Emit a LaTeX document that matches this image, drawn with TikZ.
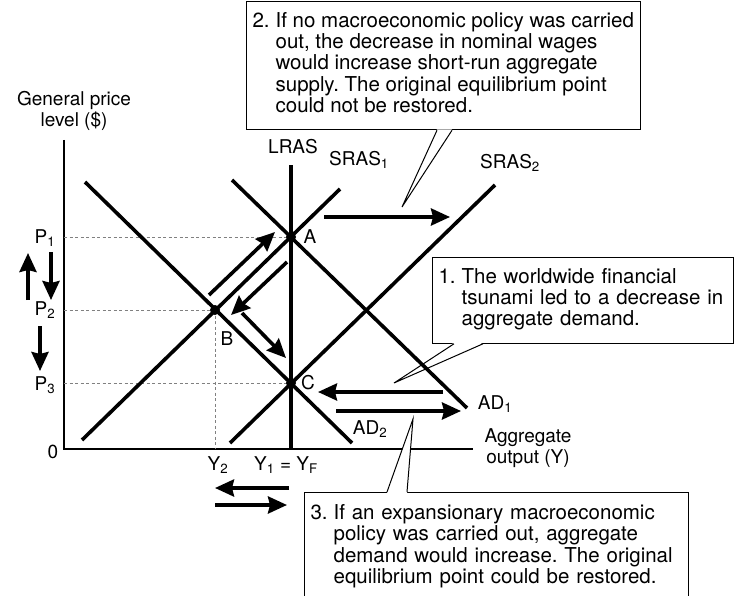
\documentclass[tikz,border=0pt]{standalone}
\usepackage{fontspec}
\setmainfont{TeX Gyre Heros}
\usetikzlibrary{arrows.meta, positioning}
\frenchspacing

\begin{document}
\begin{tikzpicture}[
	x=1pt, y=-1pt,
	every node/.style={font=\fontsize{19}{21}\selectfont, inner sep=0pt},
	curve/.style={line width=3.6pt},
	axisline/.style={line width=1.3pt},
	guide/.style={gray, line width=0.9pt, dash pattern=on 3pt off 2.5pt},
	movearrow/.style={-{Stealth[length=19pt, width=17pt, inset=2pt]}, line width=3.6pt},
	notebox/.style={draw, fill=white, line width=1pt, anchor=north west, inner xsep=6pt, inner ysep=11pt,
		font=\fontsize{20.5}{21}\selectfont},
	wedge/.style={line width=1pt},
	dot/.style={circle, fill, minimum size=10pt}
]
	\useasboundingbox (0,0) rectangle (735,596);
	\clip (0,0) rectangle (735,596);

	% equilibrium points
	\coordinate (A) at (291,237);
	\coordinate (B) at (215,310);
	\coordinate (C) at (291,383);

	% axes
	\coordinate (top) at (64,140);
	\coordinate (origin) at (64,449);
	\coordinate (right) at (473,449);
	\draw[axisline] (top) -- (origin) -- (right);

	% guides
	\draw[guide] (64,237) -- (A);
	\draw[guide] (64,310) -- (B);
	\draw[guide] (64,383) -- (C);
	\draw[guide] (B) -- (215,449);

	% notes
	\node[notebox] (note2) at (246,1) {\begin{tabular}{@{}l@{\hspace{6pt}}l@{}}
		2.& If no macroeconomic policy was carried\\
		& out, the decrease in nominal wages\\
		& would increase short-run aggregate\\
		& supply. The original equilibrium point\\
		& could not be restored.\end{tabular}};
	\node[notebox, text width=289pt] (note1) at (432,257) {\begin{tabular}{@{}l@{\hspace{6pt}}l@{}}
		1.& The worldwide financial\\
		& tsunami led to a decrease in\\
		& aggregate demand.\end{tabular}};
	\node[notebox, text width=372pt, inner ysep=12pt] (note3) at (304,492) {\begin{tabular}{@{}l@{\hspace{6pt}}l@{}}
		3.& If an expansionary macroeconomic\\
		& policy was carried out, aggregate\\
		& demand would increase. The original\\
		& equilibrium point could be restored.\end{tabular}};

	\coordinate (tip2) at (402,207);
	\coordinate (tip1) at (394,383);
	\coordinate (tip3) at (413,419);
	\fill[white] ([xshift=191pt, yshift=1pt]note2.south west) -- (tip2) -- ([xshift=206pt, yshift=1pt]note2.south west) -- cycle;
	\draw[wedge] ([xshift=191pt]note2.south west) -- (tip2) -- ([xshift=206pt]note2.south west);
	\fill[white] ([xshift=22pt, yshift=1pt]note1.south west) -- (tip1) -- ([xshift=51pt, yshift=1pt]note1.south west) -- cycle;
	\draw[wedge] ([xshift=22pt]note1.south west) -- (tip1) -- ([xshift=51pt]note1.south west);
	\fill[white] ([xshift=83pt, yshift=-1pt]note3.north west) -- (tip3) -- ([xshift=103pt, yshift=-1pt]note3.north west) -- cycle;
	\draw[wedge] ([xshift=83pt]note3.north west) -- (tip3) -- ([xshift=103pt]note3.north west);

	% curves
	\draw[curve] (232,180) -- (467,408);
	\draw[curve] (85,182) -- (352,443);
	\draw[curve] (82,440) -- (340,189);
	\draw[curve] (230,443) -- (495,185);
	\draw[curve] (291,165) -- (291,449);

	\node[dot] at (A) {};
	\node[dot] at (B) {};
	\node[dot] at (C) {};

	% shifts
	\draw[movearrow] (28,300) -- (28,253);
	\draw[movearrow] (51,252) -- (51,300);
	\draw[movearrow] (40,326) -- (40,371);
	\draw[movearrow] (209,295) -- (275,232);
	\draw[movearrow] (287,262) -- (231,315);
	\draw[movearrow] (242,313) -- (286,358);
	\draw[movearrow] (324,217) -- (450,217);
	\draw[movearrow] (443,392) -- (318,392);
	\draw[movearrow] (336,411) -- (461,411);
	\draw[movearrow] (289,488) -- (215,488);
	\draw[movearrow] (215,505) -- (287,505);

	% labels
	\node[align=center] (ylabel) at (74,111) {General price\\level (\$)};
	\node[align=center] (xlabel) at (528,448) {Aggregate\\output (Y)};
	\node (p1) at (45,238) {P\textsubscript{1}};
	\node (p2) at (45,310) {P\textsubscript{2}};
	\node (p3) at (45,385) {P\textsubscript{3}};
	\node (zero) at (53,452) {0};
	\node (y2) at (218,465) {Y\textsubscript{2}};
	\node (y1) at (286,465) {Y\textsubscript{1} = Y\textsubscript{F}};
	\node (lras) at (293,147) {LRAS};
	\node (sras1) at (359,160) {SRAS\textsubscript{1}};
	\node (sras2) at (510,163) {SRAS\textsubscript{2}};
	\node (la) at (310,237) {A};
	\node (lb) at (227,339) {B};
	\node (lc) at (308,383) {C};
	\node (ad1) at (495,404) {AD\textsubscript{1}};
	\node (ad2) at (370,429) {AD\textsubscript{2}};

\end{tikzpicture}
\end{document}
